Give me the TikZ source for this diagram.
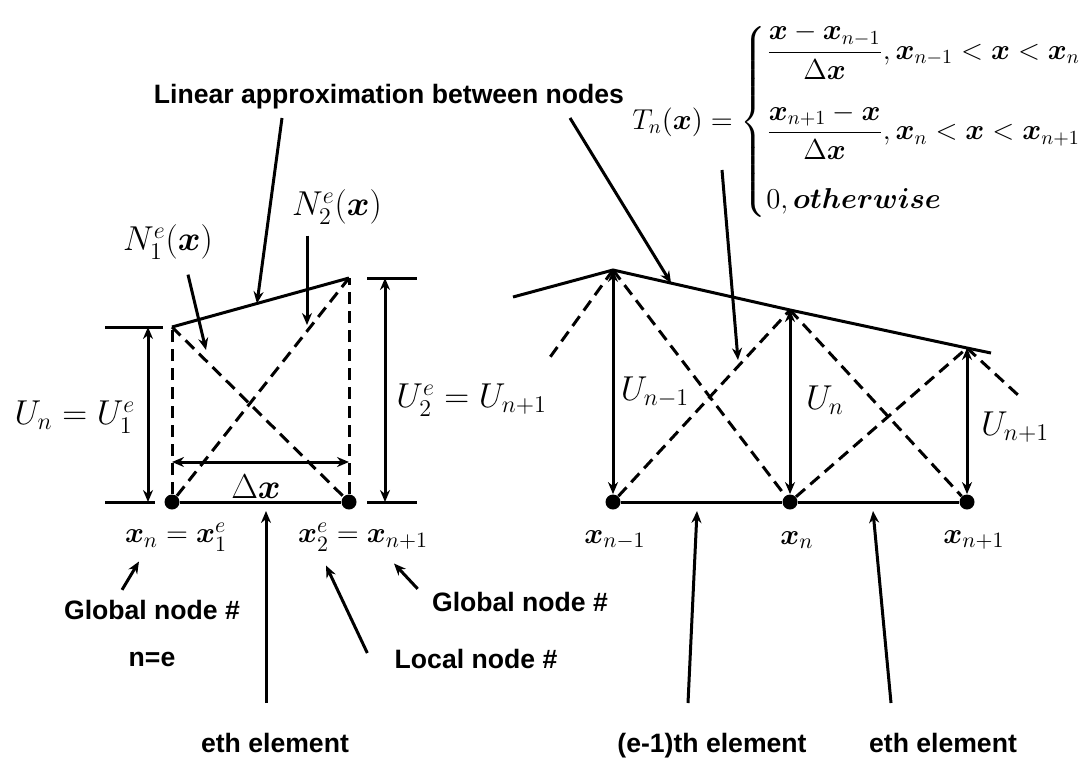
\documentclass[tikz,border=0pt]{standalone}
\usepackage{amsmath}
\usepackage{fontspec}
\setsansfont{Liberation Sans}
\usetikzlibrary{arrows.meta,calc}
\tikzset{
  >={Stealth[length=6pt,width=5pt]},
  solidln/.style={line width=1.5pt},
  dashln/.style={line width=1.5pt, dash pattern=on 6pt off 3.5pt},
  dimarr/.style={<->, line width=1.5pt},
  flow/.style={->, line width=1.5pt},
  dot/.style={circle, fill, inner sep=0pt, minimum size=7.5pt},
  lab/.style={font=\sffamily\bfseries\fontsize{13.3}{16}\selectfont, inner sep=0pt},
  mth/.style={font=\fontsize{17}{20}\selectfont, inner sep=0pt},
  mthx/.style={font=\fontsize{15}{18}\selectfont, inner sep=0pt},
  eqn/.style={font=\fontsize{14}{17}\selectfont, inner sep=0pt}
}
\newcommand{\xv}{\boldsymbol{x}}

\begin{document}
\begin{tikzpicture}[x=0.5pt, y=-0.5pt]
\useasboundingbox (0,0) rectangle (1079,760);
% one element
\node[dot] (e1) at (172,502) {};
\node[dot] (e2) at (349,502) {};
\coordinate (t1) at (172,327);
\coordinate (t2) at (349,278);
\draw[solidln] (e1) -- (e2);
\draw[solidln] (t1) -- (t2);
\draw[dashln] (e1) -- (t1);
\draw[dashln] (e2) -- (t2);
\draw[dashln] (t1) -- (e2);
\draw[dashln] (e1) -- (t2);
\draw[solidln] (105,327) -- (163,327);
\draw[solidln] (105,502) -- (155,502);
\draw[solidln] (367,278) -- (417,278);
\draw[solidln] (367,502) -- (417,502);
\coordinate (ua) at (148,327);
\coordinate (ub) at (148,502);
\coordinate (va) at (385,278);
\coordinate (vb) at (385,502);
\draw[dimarr] (ua) -- (ub);
\draw[dimarr] (va) -- (vb);
\coordinate (da) at (172,462);
\coordinate (db) at (349,462);
\draw[dimarr] (da) -- (db);
\node[mth] (dx) at (256,487) {$\Delta\xv$};
\node[mth] (un) at (75,417) {$U_n = U_1^e$};
\node[mth, anchor=west] (u2) at (396,400) {$U_2^e = U_{n+1}$};
\node[mth] (n1) at (168,242) {$N_1^e(\xv)$};
\node[mth] (n2) at (337,207) {$N_2^e(\xv)$};
\node[mthx] (xl) at (176,537) {$\xv_n = \xv_1^e$};
\node[mthx] (xr) at (363,537) {$\xv_2^e = \xv_{n+1}$};
\node[lab, anchor=base] (lin) at (389,103) {Linear approximation between nodes};
\node[lab] (gl) at (152,610) {Global node \#};
\node[lab] (ne) at (152,659) {n=e};
\node[lab] (gr) at (520,602) {Global node \#};
\node[lab] (lo) at (476,659) {Local node \#};
\node[lab, anchor=base] (el) at (275,752) {eth element};
\coordinate (p1) at (206,350);
\coordinate (p2) at (307,325);
\coordinate (m1) at (266,511);
\draw[flow] ($(lin.base)+(-107,15)$) -- ($(t1)!0.48!(t2)$);
\draw[flow] ($(n1.south)+(20,15)$) -- (p1);
\draw[flow] ($(n2.south)+(-30,11)$) -- (p2);
\draw[flow] ($(gl.north)+(-30,-10)$) -- ($(xl.south)+(-37,10)$);
\draw[flow] ($(gr.north west)+(-14,-3)$) -- ($(xr.south)+(31,12)$);
\draw[flow] ($(lo.west)+(-27,-6)$) -- ($(xr.south)+(-37,14)$);
\draw[flow] ($(el.base)+(-9,-49)$) -- (m1);
% several elements
\node[dot] (r1) at (613,502) {};
\node[dot] (r2) at (790,502) {};
\node[dot] (r3) at (967,502) {};
\coordinate (s0) at (513,297);
\coordinate (s1) at (613,270);
\coordinate (s2) at (790,310);
\coordinate (s3) at (967,348);
\coordinate (s4) at (991,353);
\coordinate (c0) at (548,360);
\coordinate (c4) at (1018,395);
\draw[solidln] (s0) -- (s1) -- (s2) -- (s3) -- (s4);
\draw[solidln] (r1) -- (r2) -- (r3);
\draw[dimarr] (r1) -- (s1);
\draw[dimarr] (r2) -- (s2);
\draw[dimarr] (r3) -- (s3);
\draw[dashln] (s1) -- (c0);
\draw[dashln] (s1) -- (r2);
\draw[dashln] (r1) -- (s2);
\draw[dashln] (s2) -- (r3);
\draw[dashln] (r2) -- (s3);
\draw[dashln] (s3) -- (c4);
\node[mth] (um) at (655,392) {$U_{n-1}$};
\node[mth] (uc) at (825,400) {$U_n$};
\node[mth] (up) at (1015,427) {$U_{n+1}$};
\node[mthx] (xm) at (615,540) {$\xv_{n-1}$};
\node[mthx] (xc) at (797,540) {$\xv_n$};
\node[mthx] (xp) at (974,540) {$\xv_{n+1}$};
\node[eqn, anchor=west] (tn) at (632,122) {$T_n(\xv) = \begin{cases}
  \dfrac{\xv-\xv_{n-1}}{\Delta\xv}, \xv_{n-1} < \xv < \xv_n \\[16pt]
  \dfrac{\xv_{n+1}-\xv}{\Delta\xv}, \xv_n < \xv < \xv_{n+1} \\[14pt]
  0, \boldsymbol{otherwise}
\end{cases}$};
\node[lab, anchor=base] (em) at (712,752) {(e-1)th element};
\node[lab, anchor=base] (er) at (943,752) {eth element};
\coordinate (p3) at (738,360);
\coordinate (m2) at (697,511);
\coordinate (m3) at (873,511);
\draw[flow] ($(lin.base)+(181,15)$) -- ($(s1)!0.328!(s2)$);
\draw[flow] ($(tn.west)+(90,48)$) -- (p3);
\draw[flow] ($(em.base)+(-24,-49)$) -- (m2);
\draw[flow] ($(er.base)+(-52,-49)$) -- (m3);
\end{tikzpicture}
\end{document}
